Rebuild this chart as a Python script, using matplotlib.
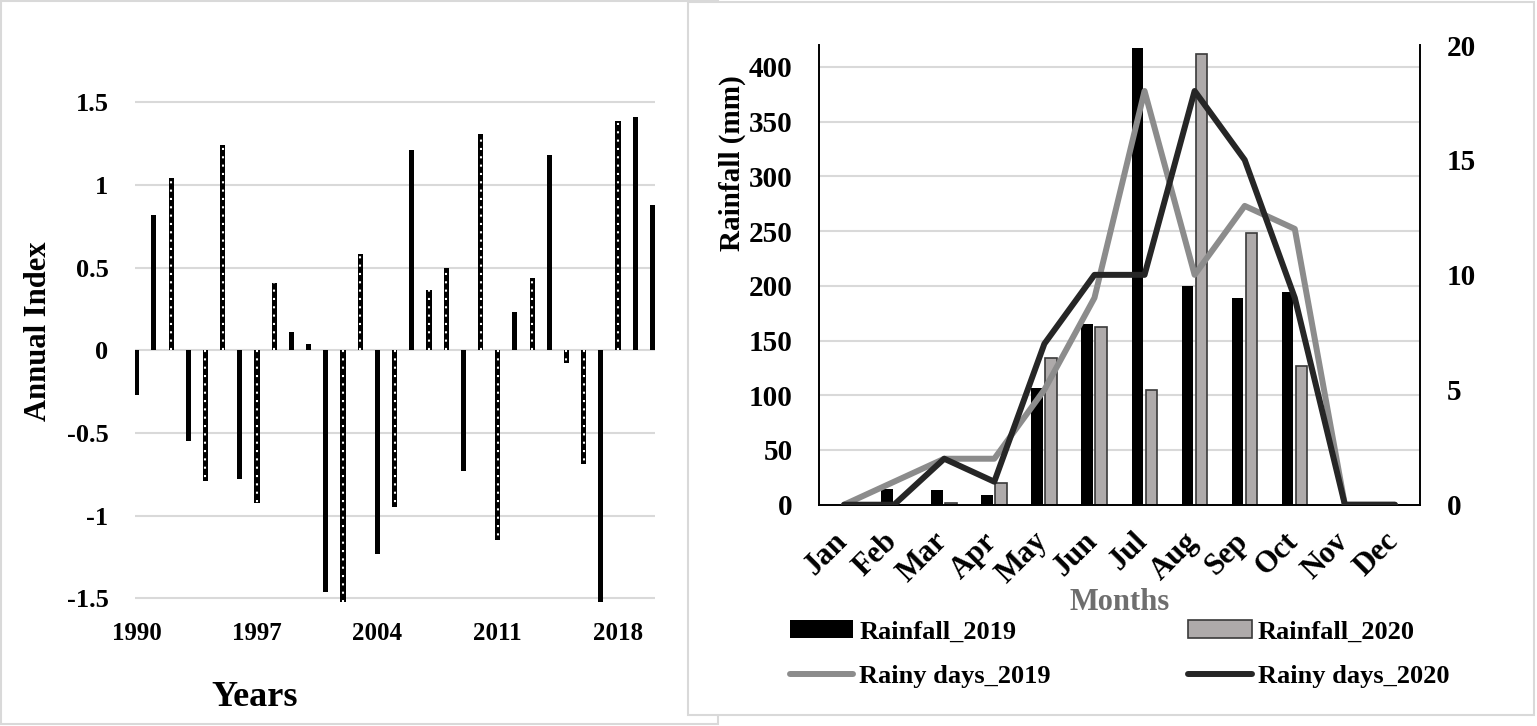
import numpy as np
import matplotlib
matplotlib.use("Agg")
import matplotlib.pyplot as plt
from matplotlib.patches import Rectangle
from matplotlib.transforms import ScaledTranslation

plt.rcParams['font.family'] = ['Liberation Serif', 'DejaVu Serif']
plt.rcParams['font.weight'] = 'bold'

# ---- data: left panel (annual index) ----
years = list(range(1990, 2021))
annual_index = [-0.27, 0.82, 1.04, -0.55, -0.79, 1.24, -0.78, -0.925, 0.41, 0.11,
                0.04, -1.46, -1.52, 0.585, -1.23, -0.945, 1.21, 0.365, 0.50, -0.73,
                1.31, -1.15, 0.23, 0.44, 1.18, -0.077, -0.685, -1.52, 1.39, 1.41, 0.88]
# 1 = bar drawn with dotted pattern
dotted = [0, 0, 1, 0, 1, 1, 0, 1, 1, 0,
          0, 0, 1, 1, 0, 1, 0, 1, 1, 0,
          1, 1, 0, 1, 0, 1, 1, 0, 1, 0, 0]
year_ticks = [1990, 1997, 2004, 2011, 2018]

# ---- data: right panel (monthly rainfall) ----
months = ['Jan', 'Feb', 'Mar', 'Apr', 'May', 'Jun', 'Jul', 'Aug', 'Sep', 'Oct', 'Nov', 'Dec']
rain_2019 = [0, 14, 13, 9, 107, 165, 417, 200, 189, 194, 0, 0]
rain_2020 = [0, 0, 2, 20, 134, 162, 105, 412, 248, 127, 0, 0]
days_2019 = [0, 1, 2, 2, 5, 9, 18, 10, 13, 12, 0, 0]
days_2020 = [0, 0, 2, 1, 7, 10, 10, 18, 15, 9, 0, 0]

W, H = 1537, 726
fig = plt.figure(figsize=(W / 100, H / 100), dpi=100)

grid_c = '#d9d9d9'

# panel frames
fig.patches.append(Rectangle((1 / W, 1 - 724 / H), 717 / W, 723 / H, transform=fig.transFigure,
                             facecolor='white', edgecolor=grid_c, lw=1.5, zorder=-3))
fig.patches.append(Rectangle((688 / W, 1 - 715 / H), 846 / W, 713 / H, transform=fig.transFigure,
                             facecolor='white', edgecolor=grid_c, lw=1.5, zorder=-2))

# ---- left panel ----
ax = fig.add_axes([135 / W, 1 - 606.6 / H, 520 / W, 512.4 / H])
ax.set_facecolor('none')
ax.bar(years, annual_index, width=0.3, color='black', zorder=2)
for y, v, d in zip(years, annual_index, dotted):
    if d:
        ax.vlines(y, 0, v, colors='white', lw=1.5, linestyles=(0, (1, 3)), zorder=3)
ax.set_xlim(1989.9, 2020.15)
ax.set_ylim(-1.55, 1.55)
ax.set_yticks([-1.5, -1, -0.5, 0, 0.5, 1, 1.5])
ax.set_yticklabels(['-1.5', '-1', '-0.5', '0', '0.5', '1', '1.5'])
ax.set_xticks(year_ticks)
ax.grid(axis='y', color=grid_c, lw=1.5, zorder=0)
ax.tick_params(length=0)
ax.tick_params(axis='y', pad=19, labelsize=19)
ax.tick_params(axis='x', pad=11, labelsize=18)
for s in ax.spines.values():
    s.set_visible(False)

fig.text(39 / W, 1 - 331 / H, 'Annual Index', rotation=90, ha='center', va='center', fontsize=22)
fig.text(255 / W, 1 - 697 / H, 'Years', ha='center', va='center', fontsize=26)

# ---- right panel ----
ax1 = fig.add_axes([819 / W, 1 - 504.7 / H, 601 / W, 459.7 / H])
ax1.set_facecolor('none')
x = np.arange(len(months))
b1 = ax1.bar(x - 0.145, rain_2019, width=0.23, color='black', zorder=2, label='Rainfall_2019')
b2 = ax1.bar(x + 0.135, rain_2020, width=0.23, color='#aeaaaa', edgecolor='#3a3a3a', lw=1.2,
             zorder=2, label='Rainfall_2020')
ax1.set_xlim(-0.5, 11.5)
ax1.set_ylim(0, 420)
ax1.set_yticks(range(0, 401, 50))
ax1.set_xticks(x)
ax1.set_xticklabels(months, rotation=45, ha='right', va='top')
ax1.grid(axis='y', color=grid_c, lw=1.5, zorder=0)
ax1.set_axisbelow(True)
ax1.tick_params(length=0, labelsize=21)
ax1.tick_params(axis='y', pad=19)
ax1.tick_params(axis='x', pad=16, labelsize=22)
# nudge month labels to the right (after tick_params, which resets transforms)
shift = ScaledTranslation(9 / 100, 0, fig.dpi_scale_trans)
for lab in ax1.get_xticklabels():
    lab.set_transform(lab.get_transform() + shift)
ax1.spines['top'].set_visible(False)
ax1.spines['right'].set_visible(False)
ax1.spines['left'].set_linewidth(1.4)
ax1.spines['bottom'].set_linewidth(1.4)

ax2 = ax1.twinx()
l1, = ax2.plot(x, days_2019, color='#8c8c8c', lw=4.3, solid_capstyle='round',
               solid_joinstyle='round', label='Rainy days_2019')
l2, = ax2.plot(x, days_2020, color='#262626', lw=4.3, solid_capstyle='round',
               solid_joinstyle='round', label='Rainy days_2020')
ax2.set_ylim(0, 20)
ax2.set_yticks(range(0, 21, 5))
ax2.tick_params(length=0, labelsize=21, pad=19)
ax2.spines['top'].set_visible(False)
ax2.spines['left'].set_visible(False)
ax2.spines['bottom'].set_visible(False)
ax2.spines['right'].set_linewidth(1.4)

fig.text(732 / W, 1 - 163 / H, 'Rainfall (mm)', rotation=90, ha='center', va='center', fontsize=21)
fig.text(1120 / W, 1 - 603 / H, 'Months', ha='center', va='center', fontsize=22, color='#6e6e6e')

handles = [b1, l1, b2, l2]
labels = ['Rainfall_2019', 'Rainy days_2019', 'Rainfall_2020', 'Rainy days_2020']
fig.legend(handles, labels, ncol=2, loc='upper left', bbox_to_anchor=(790 / W, 1 - 620 / H),
           frameon=False, fontsize=19, handlelength=2.4, handletextpad=0.23,
           columnspacing=5.2, labelspacing=0.8, borderpad=0, borderaxespad=0)

fig.savefig('out.png', dpi=100)
